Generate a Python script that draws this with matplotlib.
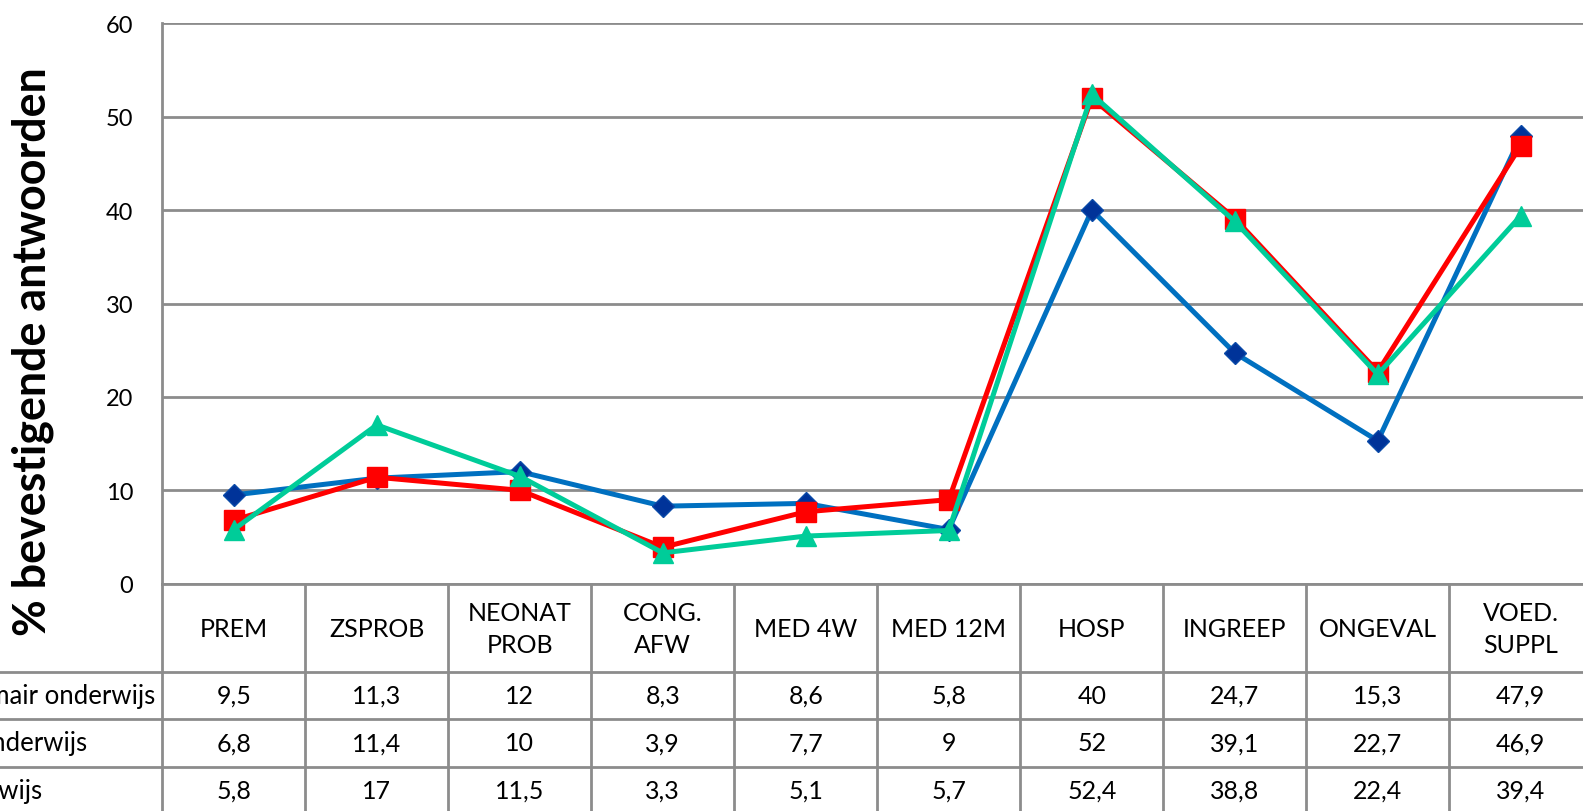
import numpy as np
import matplotlib.pyplot as plt

plt.rcParams['font.family'] = ['Lato', 'DejaVu Sans']

# data
categories = ["PREM", "ZSPROB", "NEONAT\nPROB", "CONG.\nAFW", "MED 4W",
              "MED 12M", "HOSP", "INGREEP", "ONGEVAL", "VOED.\nSUPPL"]
row_names = ["Primair onderwijs", "Secundair onderwijs", "Hoger onderwijs"]
blue_vals = [9.5, 11.3, 12, 8.3, 8.6, 5.8, 40, 24.7, 15.3, 47.9]
red_vals = [6.8, 11.4, 10, 3.9, 7.7, 9, 52, 39.1, 22.7, 46.9]
green_vals = [5.8, 17, 11.5, 3.3, 5.1, 5.7, 52.4, 38.8, 22.4, 39.4]
yticks = [0, 10, 20, 30, 40, 50, 60]
ylabel = "% bevestigende antwoorden"

W, H = 1583, 812
gray = '#8c8c8c'

# layout in pixels
px_left, px_top, px_bottom = 162.3, 24.3, 584.7
col_w = 143.0
hdr_h, row_h = 88.0, 47.5

fig = plt.figure(figsize=(W / 100, H / 100), dpi=100)

ax = fig.add_axes([px_left / W, (H - px_bottom) / H,
                   10 * col_w / W, (px_bottom - px_top) / H])
ax.set_xlim(0, 10)
ax.set_ylim(0, 60)
ax.set_yticks(yticks)
ax.set_xticks([])
ax.grid(axis='y', color=gray, lw=2)
ax.set_axisbelow(True)
for s in ['top', 'right']:
    ax.spines[s].set_visible(False)
for s in ['left', 'bottom']:
    ax.spines[s].set_color(gray)
    ax.spines[s].set_linewidth(2)
ax.tick_params(axis='y', length=0, pad=21, labelsize=17)

x = np.arange(len(categories)) + 0.5
ax.plot(x, blue_vals, color='#0070C0', lw=3.6, marker='D', ms=11,
        mfc='#003399', mec='#0a4aa8', mew=1, zorder=3, clip_on=False)
ax.plot(x, red_vals, color='#FF0000', lw=3.6, marker='s', ms=14,
        mfc='#FF0000', mec='#FF0000', zorder=4, clip_on=False)
ax.plot(x, green_vals, color='#00CC99', lw=3.6, marker='^', ms=15,
        mfc='#00CC99', mec='#00CC99', zorder=5, clip_on=False)

fig.text(33 / W, 1 - 352 / H, ylabel, rotation=90, ha='center', va='center',
         fontsize=32.3, fontweight='bold')

# data table under the plot
tab_h = H - px_bottom
tax = fig.add_axes([px_left / W, 0, 10 * col_w / W, tab_h / H])
tax.set_xlim(0, 10)
tax.set_ylim(tab_h, 0)
tax.axis('off')

left_x = -px_left / col_w
for k in range(11):
    tax.plot([k, k], [0, tab_h], color=gray, lw=2, clip_on=False)
for r in range(3):
    yl = hdr_h + r * row_h
    tax.plot([left_x, 10], [yl, yl], color=gray, lw=2, clip_on=False)

for i, c in enumerate(categories):
    tax.text(i + 0.5, hdr_h / 2 + 1, c, ha='center', va='center',
             fontsize=18, linespacing=1.45)

rows = [blue_vals, red_vals, green_vals]
label_ends = [155, 87, 42]
for r, vals in enumerate(rows):
    yc = hdr_h + (r + 0.5) * row_h
    for i, v in enumerate(vals):
        tax.text(i + 0.5, yc, str(v).replace('.', ','), ha='center',
                 va='center', fontsize=18)
    tax.text((label_ends[r] - px_left) / col_w, yc, row_names[r],
             ha='right', va='center', fontsize=18.5, clip_on=False)

fig.savefig('out.png', dpi=100)
